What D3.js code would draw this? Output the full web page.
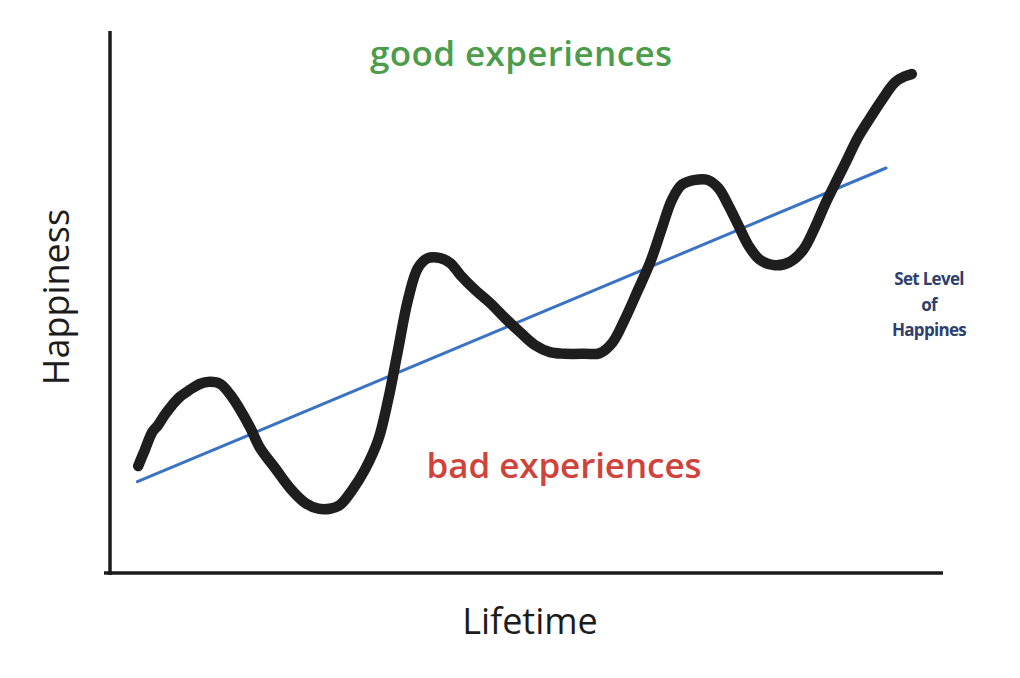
<!DOCTYPE html>
<html>
<head>
<meta charset="utf-8">
<script src="https://cdn.jsdelivr.net/npm/d3@7"></script>
<style>
  body { margin: 0; background: #fff; }
  svg { display: block; }
</style>
</head>
<body>
<svg id="chart"></svg>
<script>
// Lifetime (0-100) and happiness (0-100)
const lifetime = [3.4, 4.2, 5.1, 5.8, 6.6, 7.5, 8.4, 9.6, 10.8, 12.0, 13.3, 14.5, 15.7, 16.9, 18.1,
  19.9, 21.7, 23.5, 25.1, 26.5, 27.7, 29.2, 30.7, 32.3, 33.5, 34.7, 35.9, 37.1, 38.3, 39.8,
  41.0, 42.2, 44.0, 45.8, 47.6, 49.4, 51.2, 53.0, 54.8, 57.2, 59.0, 60.5, 62.0, 63.5, 65.1,
  66.5, 67.7, 68.9, 70.5, 72.0, 73.3, 74.5, 75.7, 76.9, 78.3, 80.1, 81.9, 83.5, 84.9, 86.1,
  87.3, 88.6, 90.1, 91.6, 93.0, 94.6, 95.8, 96.6];
const happiness = [19.8, 22.8, 26.1, 27.4, 29.3, 31.1, 32.6, 33.9, 35.0, 35.4, 35.0, 33.0, 30.2, 26.9, 23.1,
  19.4, 15.7, 13.0, 11.9, 11.9, 12.6, 15.4, 19.1, 24.6, 32.0, 41.3, 50.6, 56.5, 58.3, 58.3,
  57.4, 55.2, 52.4, 50.0, 47.2, 44.6, 42.2, 40.9, 40.6, 40.6, 40.7, 42.6, 46.9, 52.0, 57.6,
  63.9, 69.1, 71.9, 72.8, 72.8, 71.3, 68.1, 64.4, 60.7, 58.0, 57.0, 57.6, 59.8, 63.9, 68.1,
  71.9, 75.9, 80.6, 84.3, 87.6, 90.9, 92.0, 92.4];

// set level of happiness: straight trend
const setLevelX = [3.3, 93.5];
const setLevelY = [16.9, 75.0];

const xTitle = "Lifetime";
const yTitle = "Happiness";
const goodLabel = "good experiences";
const badLabel = "bad experiences";
const setLevelLabel = ["Set Level", "of", "Happines"];

const svgWidth = 1020;
const svgHeight = 678;

const svg = d3.select("#chart")
  .attr("width", svgWidth)
  .attr("height", svgHeight);

// scales
const xScale = d3.scaleLinear().domain([0, 100]).range([110, 940]);
const yScale = d3.scaleLinear().domain([0, 100]).range([573, 33]);

// axes, drawn as bare lines (no ticks in the sketch)
svg.append("g")
  .attr("transform", `translate(0,${yScale(0)})`)
  .call(d3.axisBottom(xScale).ticks(0).tickSizeOuter(0))
  .call(g => g.select(".domain")
    .attr("d", `M${xScale(0) - 6},0H${xScale(100) + 3}`)
    .attr("stroke", "#1b1b1b")
    .attr("stroke-width", 3.5));

svg.append("g")
  .attr("transform", `translate(${xScale(0)},0)`)
  .call(d3.axisLeft(yScale).ticks(0).tickSizeOuter(0))
  .call(g => g.select(".domain")
    .attr("d", `M0,${yScale(0) + 2}V${yScale(100) - 2}`)
    .attr("stroke", "#1b1b1b")
    .attr("stroke-width", 3.5));

// blue set level line
const trend = setLevelX.map((d, i) => [d, setLevelY[i]]);
svg.append("path")
  .datum(trend)
  .attr("fill", "none")
  .attr("stroke", "#3b73c4")
  .attr("stroke-width", 3)
  .attr("stroke-linecap", "round")
  .attr("d", d3.line().x(d => xScale(d[0])).y(d => yScale(d[1])));

// black happiness curve
const points = lifetime.map((d, i) => [d, happiness[i]]);
svg.append("path")
  .datum(points)
  .attr("fill", "none")
  .attr("stroke", "#1e1e1e")
  .attr("stroke-width", 10.5)
  .attr("stroke-linecap", "round")
  .attr("stroke-linejoin", "round")
  .attr("d", d3.line()
    .x(d => xScale(d[0]))
    .y(d => yScale(d[1]))
    .curve(d3.curveCatmullRom));

// labels
svg.append("text")
  .attr("x", 521)
  .attr("y", 66)
  .attr("text-anchor", "middle")
  .attr("font-family", "'Open Sans', sans-serif")
  .attr("font-weight", 600)
  .attr("font-size", 35)
  .attr("textLength", 302)
  .attr("fill", "#4c9c4c")
  .text(goodLabel);

svg.append("text")
  .attr("x", 564)
  .attr("y", 478)
  .attr("text-anchor", "middle")
  .attr("font-family", "'Open Sans', sans-serif")
  .attr("font-weight", 600)
  .attr("font-size", 35)
  .attr("textLength", 275)
  .attr("fill", "#cf433b")
  .text(badLabel);

svg.append("text")
  .attr("x", 530)
  .attr("y", 634)
  .attr("text-anchor", "middle")
  .attr("font-family", "'Open Sans', sans-serif")
  .attr("font-size", 36)
  .attr("fill", "#1c1c1c")
  .text(xTitle);

svg.append("text")
  .attr("transform", "translate(69,297) rotate(-90)")
  .attr("text-anchor", "middle")
  .attr("font-family", "'Open Sans', sans-serif")
  .attr("font-size", 36)
  .attr("fill", "#1c1c1c")
  .text(yTitle);

svg.append("g")
  .selectAll("text")
  .data(setLevelLabel)
  .enter().append("text")
  .attr("x", 929)
  .attr("y", (d, i) => 285 + i * 25.5)
  .attr("text-anchor", "middle")
  .attr("font-family", "'Open Sans', sans-serif")
  .attr("font-weight", 700)
  .attr("font-size", 17)
  .attr("letter-spacing", -0.7)
  .attr("fill", "#2e3f6c")
  .text(d => d);
</script>
</body>
</html>
